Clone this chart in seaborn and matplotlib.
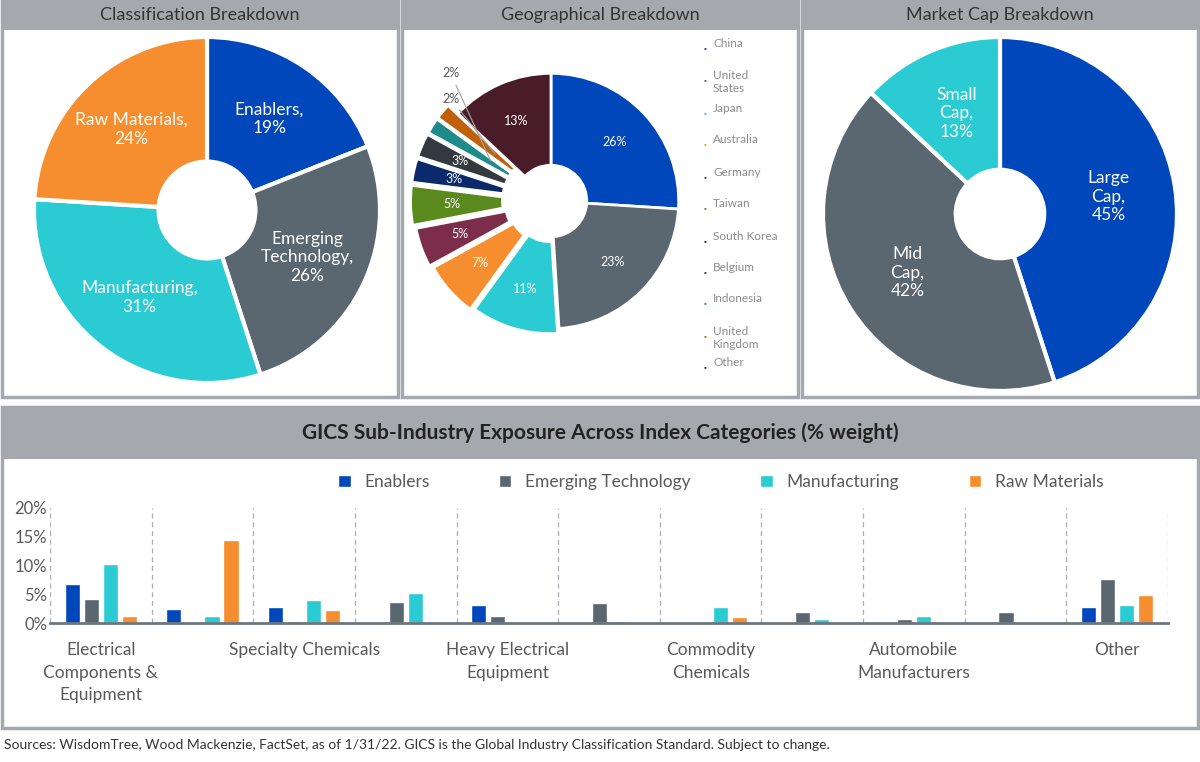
import numpy as np
import pandas as pd
import seaborn as sns
import matplotlib.pyplot as plt
from matplotlib.patches import Rectangle

sns.set_theme(style="white")
plt.rcParams['font.family'] = ['Lato', 'DejaVu Sans']

# classification
cls_labels = ["Enablers", "Emerging\nTechnology", "Manufacturing", "Raw Materials"]
cls_values = [19, 26, 31, 24]
# geography
geo_labels = ["China", "United\nStates", "Japan", "Australia", "Germany", "Taiwan",
              "South Korea", "Belgium", "Indonesia", "United\nKingdom", "Other"]
geo_values = [26, 23, 11, 7, 5, 5, 3, 3, 2, 2, 13]
geo_colors = ["#0047BB", "#5A6670", "#2BCBD3", "#F68D2E", "#7B2D4A", "#5A8A1E",
              "#0A2A6B", "#33393F", "#1F8A8A", "#C0600A", "#4A1C2A"]
# market cap
cap_labels = ["Large\nCap", "Mid\nCap", "Small\nCap"]
cap_values = [45, 42, 13]
# sub-industry
categories = ["Electrical\nComponents &\nEquipment", "c1", "Specialty Chemicals", "c3",
              "Heavy Electrical\nEquipment", "c5", "Commodity\nChemicals", "c7",
              "Automobile\nManufacturers", "c9", "Other"]
series = ["Enablers", "Emerging Technology", "Manufacturing", "Raw Materials"]
enablers = [6.7, 2.5, 2.8, 0, 3.1, 0, 0, 0, 0, 0, 2.8]
emerging = [4.1, 0, 0.4, 3.7, 1.3, 3.4, 0, 1.9, 0.7, 1.9, 7.6]
manufacturing = [10.3, 1.3, 4.0, 5.2, 0, 0.4, 2.8, 0.7, 1.3, 0, 3.1]
raw = [1.3, 14.5, 2.2, 0, 0, 0, 1.0, 0, 0, 0, 4.9]

main4 = ["#0047BB", "#5A6670", "#2BCBD3", "#F68D2E"]
TXT = "#595959"
BAR = "#A5A9AD"

W, H = 1200, 762
fig = plt.figure(figsize=(12, 7.62), dpi=100)


def px(x0, y0, x1, y1):
    return [x0 / W, 1 - y1 / H, (x1 - x0) / W, (y1 - y0) / H]


def panel(x0, y0, x1, y1, bar_h, title, fs):
    fig.patches.append(Rectangle((x0 / W, 1 - y1 / H), (x1 - x0) / W, (y1 - y0) / H,
                                 transform=fig.transFigure, fill=False, ec=BAR, lw=2.5))
    fig.patches.append(Rectangle((x0 / W, 1 - (y0 + bar_h) / H), (x1 - x0) / W, bar_h / H,
                                 transform=fig.transFigure, fc=BAR, ec=BAR, lw=0))
    fig.text((x0 + x1) / 2 / W, 1 - (y0 + bar_h / 2) / H, title, ha="center", va="center",
             fontsize=fs, color="#333333" if fs < 14 else "#222222",
             fontweight="normal" if fs < 14 else "bold")


panel(2, 0, 398, 397, 30, "Classification Breakdown", 13)
panel(402, 0, 798, 397, 30, "Geographical Breakdown", 13)
panel(802, 0, 1198, 397, 30, "Market Cap Breakdown", 13)
panel(2, 407, 1198, 728, 52, "GICS Sub-Industry Exposure Across Index Categories (% weight)", 15)


def fix(ax, lim=1.0):
    ax.set_xlim(-lim, lim)
    ax.set_ylim(-lim, lim)
    ax.set_aspect("equal")


# classification donut
ax = fig.add_axes(px(34, 37, 380, 383))
w, _ = ax.pie(cls_values, colors=main4, startangle=90, counterclock=False,
              wedgeprops=dict(width=0.72, edgecolor="white", linewidth=3))
for wd, lab, v in zip(w, cls_labels, cls_values):
    ang = np.deg2rad((wd.theta1 + wd.theta2) / 2)
    ax.text(0.64 * np.cos(ang), 0.64 * np.sin(ang), f"{lab},\n{v}%", ha="center",
            va="center", color="white", fontsize=12.5)
fix(ax)

# geography donut
ax = fig.add_axes(px(408, 58, 694, 344))
explode = [0, 0, 0.04, 0.06, 0.08, 0.1, 0.1, 0.1, 0.1, 0.1, 0]
w, _ = ax.pie(geo_values, colors=geo_colors, startangle=90, counterclock=False,
              explode=explode, wedgeprops=dict(width=0.72, edgecolor="white", linewidth=2))
for i, (wd, v) in enumerate(zip(w, geo_values)):
    ang = np.deg2rad((wd.theta1 + wd.theta2) / 2)
    r = 0.68 + explode[i]
    if v == 2:
        x0, y0 = 0.55 * np.cos(ang), 0.55 * np.sin(ang)
        ty = 1.0 if i == 8 else 0.8
        ax.annotate(f"{v}%", xy=(x0, y0), xytext=(-0.72, ty), fontsize=9, color=TXT,
                    ha="right", va="center", annotation_clip=False,
                    arrowprops=dict(arrowstyle="-", color="#A0A0A0", lw=0.8))
    else:
        ax.text(r * np.cos(ang), r * np.sin(ang), f"{v}%", ha="center", va="center",
                color="white", fontsize=9)
fix(ax, 1.12)
ly = [44, 76, 109, 140, 173, 204, 237, 268, 299, 332, 363]
for lab, c, y in zip(geo_labels, geo_colors, ly):
    fig.text(703 / W, 1 - y / H, "\u25aa", color=c, fontsize=5, va="top")
    fig.text(713 / W, 1 - (y - 6) / H, lab, color="#8C8C8C", fontsize=8.5, va="top",
             linespacing=1.2)

# market cap donut
ax = fig.add_axes(px(823, 36, 1177, 392))
w, _ = ax.pie(cap_values, colors=[main4[0], main4[1], main4[2]], startangle=90,
              counterclock=False, wedgeprops=dict(width=0.75, edgecolor="white", linewidth=3))
for wd, lab, v in zip(w, cap_labels, cap_values):
    ang = np.deg2rad((wd.theta1 + wd.theta2) / 2)
    ax.text(0.62 * np.cos(ang), 0.62 * np.sin(ang), f"{lab},\n{v}%", ha="center",
            va="center", color="white", fontsize=12.5)
fix(ax)

# bar chart
df = pd.DataFrame({"cat": categories * 4,
                   "series": np.repeat(series, len(categories)),
                   "value": enablers + emerging + manufacturing + raw})
ax = fig.add_axes(px(50, 508, 1168, 623))
sns.barplot(data=df, x="cat", y="value", hue="series", palette=main4, ax=ax,
            width=0.75, gap=0.2, saturation=1, legend=True)
ax.set_ylim(0, 20)
ax.set_xlim(-0.5, len(categories) - 0.5)
ax.set_yticks([0, 5, 10, 15, 20])
ax.set_yticklabels(["0%", "5%", "10%", "15%", "20%"], fontsize=12, color=TXT)
ax.set_xticks(range(0, len(categories), 2))
ax.set_xticklabels(categories[::2], fontsize=12.5, color=TXT, va="top", linespacing=1.5)
ax.tick_params(axis="x", pad=14, length=0)
ax.tick_params(axis="y", length=0, pad=2)
ax.set_xlabel("")
ax.set_ylabel("")
for s in ["top", "right", "left"]:
    ax.spines[s].set_visible(False)
ax.spines["bottom"].set_color("#6E767D")
ax.spines["bottom"].set_linewidth(2)
for k in range(len(categories) + 1):
    ax.axvline(k - 0.5, color="#A8AEB3", ls=(0, (4, 3)), lw=0.9, zorder=0)
ax.legend(loc="lower center", bbox_to_anchor=(0.6, 1.02), ncol=4, frameon=False,
          fontsize=12.5, handlelength=0.7, handleheight=0.7, columnspacing=4,
          labelcolor=TXT)

fig.text(4 / W, 1 - 745 / H,
         "Sources: WisdomTree, Wood Mackenzie, FactSet, as of 1/31/22. GICS is the Global "
         "Industry Classification Standard. Subject to change.", fontsize=10,
         color="#333333", va="center")

fig.savefig("out.png", dpi=100, facecolor="white")
